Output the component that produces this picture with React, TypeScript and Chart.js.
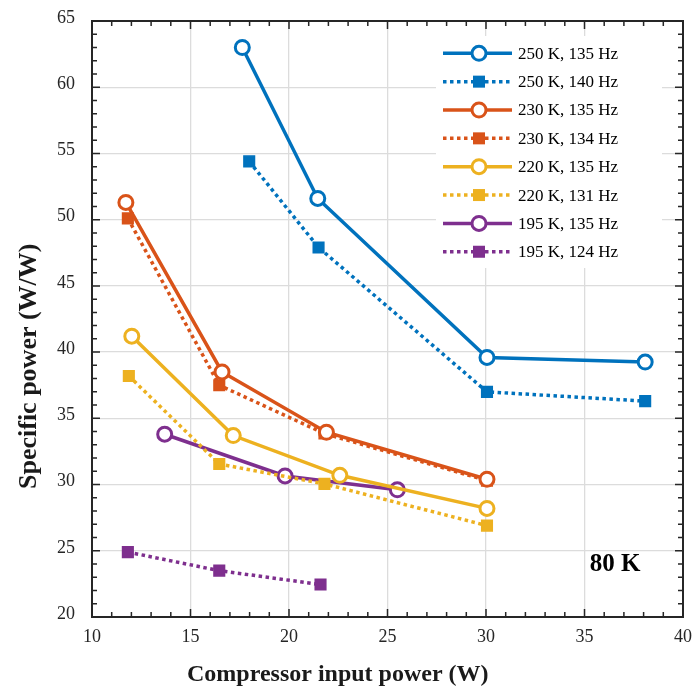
import React, { useEffect, useRef } from "react";
import { Chart, registerables } from "chart.js";

Chart.register(...registerables);

const seriesLabels = [
  "250 K, 135 Hz",
  "250 K, 140 Hz",
  "230 K, 135 Hz",
  "230 K, 134 Hz",
  "220 K, 135 Hz",
  "220 K, 131 Hz",
  "195 K, 135 Hz",
  "195 K, 124 Hz",
];
const seriesColors = ["#0072BD", "#0072BD", "#D95319", "#D95319", "#EDB120", "#EDB120", "#7E2F8E", "#7E2F8E"];
const seriesDotted = [false, true, false, true, false, true, false, true];

const x250_135 = [17.63, 21.46, 30.05, 38.08];
const y250_135 = [63.0, 51.6, 39.6, 39.25];
const x250_140 = [17.98, 21.5, 30.05, 38.08];
const y250_140 = [54.4, 47.9, 37.0, 36.3];
const x230_135 = [11.72, 16.6, 21.9, 30.05];
const y230_135 = [51.3, 38.5, 33.95, 30.4];
const x230_134 = [11.82, 16.46, 21.8, 30.05];
const y230_134 = [50.1, 37.5, 33.85, 30.3];
const x220_135 = [12.02, 17.17, 22.58, 30.05];
const y220_135 = [41.2, 33.7, 30.7, 28.2];
const x220_131 = [11.87, 16.46, 21.8, 30.05];
const y220_131 = [38.2, 31.55, 30.05, 26.9];
const x195_135 = [13.69, 19.8, 25.5];
const y195_135 = [33.8, 30.65, 29.6];
const x195_124 = [11.82, 16.46, 21.6];
const y195_124 = [24.9, 23.5, 22.45];

const seriesX = [x250_135, x250_140, x230_135, x230_134, x220_135, x220_131, x195_135, x195_124];
const seriesY = [y250_135, y250_140, y230_135, y230_134, y220_135, y220_131, y195_135, y195_124];

const xTitle = "Compressor input power (W)";
const yTitle = "Specific power (W/W)";
const annotation = "80 K";

const SERIF = "'Liberation Serif', 'Times New Roman', serif";
const AXIS_COLOR = "#262626";

function drawMarker(ctx: CanvasRenderingContext2D, x: number, y: number, color: string, dotted: boolean) {
  ctx.save();
  ctx.setLineDash([]);
  if (dotted) {
    ctx.fillStyle = color;
    ctx.fillRect(x - 6, y - 6, 12, 12);
  } else {
    ctx.beginPath();
    ctx.arc(x, y, 7, 0, Math.PI * 2);
    ctx.fillStyle = "#fff";
    ctx.fill();
    ctx.lineWidth = 3;
    ctx.strokeStyle = color;
    ctx.stroke();
  }
  ctx.restore();
}

const framePlugin = {
  id: "frame",
  afterDatasetsDraw(chart: any) {
    const ctx: CanvasRenderingContext2D = chart.ctx;
    const { left, right, top, bottom } = chart.chartArea;
    const xs = chart.scales.x;
    const ys = chart.scales.y;
    ctx.save();
    ctx.strokeStyle = AXIS_COLOR;
    ctx.lineWidth = 2;
    ctx.strokeRect(left, top, right - left, bottom - top);
    ctx.lineWidth = 1.5;
    ctx.beginPath();
    for (let v = 10; v <= 40; v += 1) {
      const px = xs.getPixelForValue(v);
      const len = v % 5 === 0 ? 8 : 5;
      ctx.moveTo(px, bottom);
      ctx.lineTo(px, bottom - len);
      ctx.moveTo(px, top);
      ctx.lineTo(px, top + len);
    }
    for (let v = 20; v <= 65; v += 1) {
      const py = ys.getPixelForValue(v);
      const len = v % 5 === 0 ? 8 : 5;
      ctx.moveTo(left, py);
      ctx.lineTo(left + len, py);
      ctx.moveTo(right, py);
      ctx.lineTo(right - len, py);
    }
    ctx.stroke();

    // legend
    const bx = 436, by = 36, bw = 226, bh = 232;
    ctx.fillStyle = "#fff";
    ctx.fillRect(bx, by, bw, bh);
    const rowH = 28.35;
    for (let i = 0; i < seriesLabels.length; i++) {
      const cy = 53.3 + i * rowH;
      ctx.beginPath();
      ctx.strokeStyle = seriesColors[i];
      ctx.lineWidth = 3.5;
      ctx.setLineDash(seriesDotted[i] ? [3.5, 3.5] : []);
      ctx.moveTo(443, cy);
      ctx.lineTo(512, cy);
      ctx.stroke();
      ctx.setLineDash([]);
      drawMarker(ctx, 479, cy, seriesColors[i], seriesDotted[i]);
      ctx.fillStyle = "#000";
      ctx.font = `17px ${SERIF}`;
      ctx.textAlign = "left";
      ctx.textBaseline = "middle";
      ctx.fillText(seriesLabels[i], 518, cy + 1);
    }

    // annotation
    ctx.fillStyle = "#000";
    ctx.font = `bold 25px ${SERIF}`;
    ctx.textAlign = "center";
    ctx.textBaseline = "middle";
    ctx.fillText(annotation, 615, 565);

    // axis titles
    ctx.fillStyle = "#1a1a1a";
    ctx.textBaseline = "alphabetic";
    ctx.textAlign = "left";
    ctx.font = `bold 24px ${SERIF}`;
    ctx.fillText(xTitle, 187, 681);
    ctx.save();
    ctx.font = `bold 26px ${SERIF}`;
    ctx.translate(36, 489);
    ctx.rotate(-Math.PI / 2);
    ctx.fillText(yTitle, 0, 0);
    ctx.restore();
    ctx.restore();
  },
};

export default function App() {
  const canvasRef = useRef<HTMLCanvasElement | null>(null);

  useEffect(() => {
    document.body.style.margin = "0";
    const canvas = canvasRef.current;
    if (!canvas) return;
    const datasets = seriesLabels.map((label, i) => ({
      label,
      data: seriesX[i].map((x, j) => ({ x, y: seriesY[i][j] })),
      borderColor: seriesColors[i],
      backgroundColor: seriesDotted[i] ? seriesColors[i] : "#ffffff",
      pointBorderColor: seriesColors[i],
      pointBackgroundColor: seriesDotted[i] ? seriesColors[i] : "#ffffff",
      borderWidth: 3.5,
      borderDash: seriesDotted[i] ? [3.5, 3.5] : [],
      pointStyle: seriesDotted[i] ? "rect" : "circle",
      pointRadius: seriesDotted[i] ? 7.5 : 7,
      pointBorderWidth: seriesDotted[i] ? 1.5 : 3,
      showLine: true,
      tension: 0,
      fill: false,
      clip: false as any,
    }));
    const chart = new Chart(canvas, {
      type: "scatter",
      data: { datasets: datasets as any },
      options: {
        responsive: false,
        animation: false,
        devicePixelRatio: 1,
        layout: { padding: { top: 21, right: 7, left: 0, bottom: 0 } },
        plugins: { legend: { display: false }, tooltip: { enabled: false } },
        scales: {
          x: {
            type: "linear",
            min: 10,
            max: 40,
            afterFit(scale: any) {
              scale.height = 71;
              scale.paddingLeft = 0;
              scale.paddingRight = 0;
            },
            ticks: {
              stepSize: 5,
              color: AXIS_COLOR,
              padding: 9,
              font: { family: SERIF, size: 18 },
            },
            grid: { color: "#dcdcdc", lineWidth: 1.3, drawTicks: false },
            border: { display: false },
          },
          y: {
            type: "linear",
            min: 20,
            max: 65,
            afterFit(scale: any) {
              scale.width = 92;
              scale.paddingTop = 0;
              scale.paddingBottom = 0;
            },
            ticks: {
              stepSize: 5,
              color: AXIS_COLOR,
              padding: 17,
              labelOffset: -3,
              font: { family: SERIF, size: 18 },
            },
            grid: { color: "#dcdcdc", lineWidth: 1.3, drawTicks: false },
            border: { display: false },
          },
        },
      },
      plugins: [framePlugin],
    });
    return () => chart.destroy();
  }, []);

  return (
    <div style={{ width: 693, height: 688 }}>
      <canvas ref={canvasRef} width={693} height={688} style={{ display: "block" }} />
    </div>
  );
}
